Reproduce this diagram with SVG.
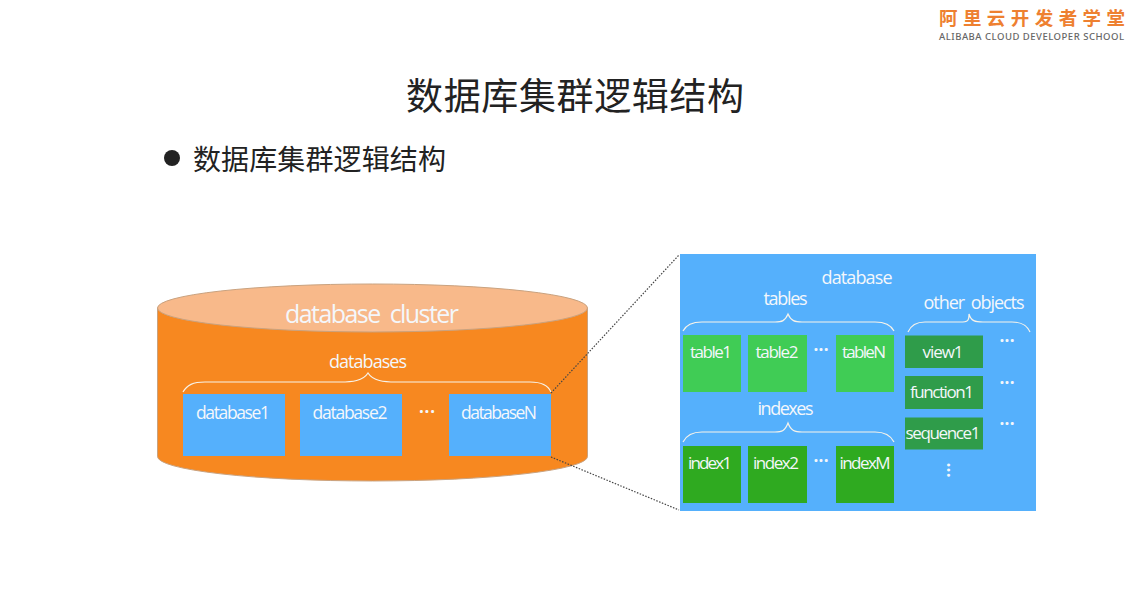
<svg xmlns="http://www.w3.org/2000/svg" width="1134" height="610" viewBox="0 0 1134 610">
<style>
text{font-family:"Noto Sans","Noto Sans CJK SC",sans-serif;}
.cn{font-family:"Noto Sans CJK SC","Noto Sans",sans-serif;fill:#222}
.w{fill:#f4f7fb;text-anchor:middle;font-family:"Open Sans","Noto Sans",sans-serif;font-weight:400}
.d{font-weight:700}
.b{fill:#55b0fc}
.lg{fill:#40cc55}
.dg{fill:#2faa20}
.mg{fill:#2f9c4a}
.br{fill:none;stroke:#f7f3ea;stroke-width:1.2}
.dot{fill:none;stroke:#444;stroke-width:1.2;stroke-dasharray:1.5 1.5}
</style>
<rect width="1134" height="610" fill="#fff"/>
<g id="logo">
<text x="939" y="25" font-size="18.500" font-weight="700" fill="#ee8030" textLength="186" style="font-family:'Noto Sans CJK SC',sans-serif">阿里云开发者学堂</text>
<text x="939" y="40" font-size="9.500" font-weight="500" fill="#666" textLength="185">ALIBABA CLOUD DEVELOPER SCHOOL</text>
</g>
<text id="title" class="cn" x="575" y="110" font-size="37" text-anchor="middle" textLength="338">数据库集群逻辑结构</text>
<g id="bullet">
<circle cx="172" cy="158" r="8" fill="#222"/>
<text class="cn" x="193" y="170" font-size="28" textLength="253">数据库集群逻辑结构</text>
</g>
<g id="cluster">
<path d="M157.500 308V456.500A215 24.500 0 0 0 587.500 456.500V308Z" fill="#f78820" stroke="#c9a27f" stroke-width="1"/>
<ellipse cx="372.500" cy="308" rx="215" ry="24" fill="#f8b98a" stroke="#c9a27f" stroke-width="1"/>
<text class="w" x="372" y="323" font-size="25" textLength="174" word-spacing="5">database cluster</text>
<text class="w" x="368" y="368" font-size="18" textLength="78">databases</text>
<path class="br" d="M183 392C187 385 193 382 205 382H340C352 382 363 381 368 373C373 381 384 382 396 382H530C542 382 548 385 551 392"/>
</g>
<g id="database1"><rect class="b" x="183" y="394" width="102" height="62"/><text class="w" x="233" y="419" font-size="17.500" textLength="74">database1</text></g>
<g id="database2"><rect class="b" x="300" y="394" width="102" height="62"/><text class="w" x="350" y="419" font-size="17.500" textLength="75">database2</text></g>
<g id="databaseN"><rect class="b" x="449" y="394" width="102" height="62"/><text class="w" x="499" y="419" font-size="17.500" textLength="76">databaseN</text></g>
<text class="w d" x="427" y="418" font-size="17" textLength="16">···</text>
<g id="connectors">
<path class="dot" d="M551 393L679 255"/>
<path class="dot" d="M551 457L679 510"/>
</g>
<g id="database-panel">
<rect class="b" x="680" y="254" width="356" height="257"/>
<text class="w" x="857" y="284" font-size="18" textLength="71">database</text>
<text class="w" x="785.500" y="305" font-size="18" textLength="44">tables</text>
<text class="w" x="974" y="309" font-size="18" textLength="101" word-spacing="3">other objects</text>
<path class="br" d="M683 331C686 325 692 322 702 322H775C782 322 785 321 788 314C791 321 795 322 802 322H875C886 322 891 325 894 331"/>
<path class="br" d="M908 332C911 325 916 322 925 322H960C968 322 969 321 969 314C971 321 975 322 983 322H1012C1022 322 1027 325 1030 332"/>
<text class="w" x="785.500" y="415" font-size="18" textLength="56">indexes</text>
<path class="br" d="M683 442C686 436 692 432 702 432H775C782 432 785 431 788 423C791 431 795 432 802 432H875C886 432 891 436 894 442"/>
</g>
<g id="table1"><rect class="lg" x="683" y="335" width="58" height="57"/><text class="w" x="711" y="358" font-size="17" textLength="42">table1</text></g>
<g id="table2"><rect class="lg" x="748" y="335" width="59" height="57"/><text class="w" x="777" y="358" font-size="17" textLength="43">table2</text></g>
<g id="tableN"><rect class="lg" x="836" y="335" width="58" height="57"/><text class="w" x="864" y="358" font-size="17" textLength="44">tableN</text></g>
<text class="w d" x="821" y="356" font-size="17" textLength="15">···</text>
<g id="index1"><rect class="dg" x="683" y="446" width="58" height="57"/><text class="w" x="710" y="469" font-size="17" textLength="44">index1</text></g>
<g id="index2"><rect class="dg" x="748" y="446" width="59" height="57"/><text class="w" x="776" y="469" font-size="17" textLength="46">index2</text></g>
<g id="indexM"><rect class="dg" x="836" y="446" width="58" height="57"/><text class="w" x="865" y="469" font-size="17" textLength="51">indexM</text></g>
<text class="w d" x="821" y="467" font-size="17" textLength="15">···</text>
<g id="view1"><rect class="mg" x="905" y="335.500" width="78" height="32.500"/><text class="w" x="943" y="358" font-size="17" textLength="41">view1</text></g>
<g id="function1"><rect class="mg" x="905" y="376" width="78" height="33"/><text class="w" x="942" y="398" font-size="17" textLength="64">function1</text></g>
<g id="sequence1"><rect class="mg" x="905" y="417.500" width="78" height="32"/><text class="w" x="943" y="439" font-size="17" textLength="75">sequence1</text></g>
<text class="w d" x="1007" y="347" font-size="17" textLength="15">···</text>
<text class="w d" x="1007" y="389" font-size="17" textLength="15">···</text>
<text class="w d" x="1007" y="430" font-size="17" textLength="15">···</text>
<text class="w d" x="948" y="476" font-size="17" transform="rotate(90 948 470)" textLength="15">···</text>
</svg>
